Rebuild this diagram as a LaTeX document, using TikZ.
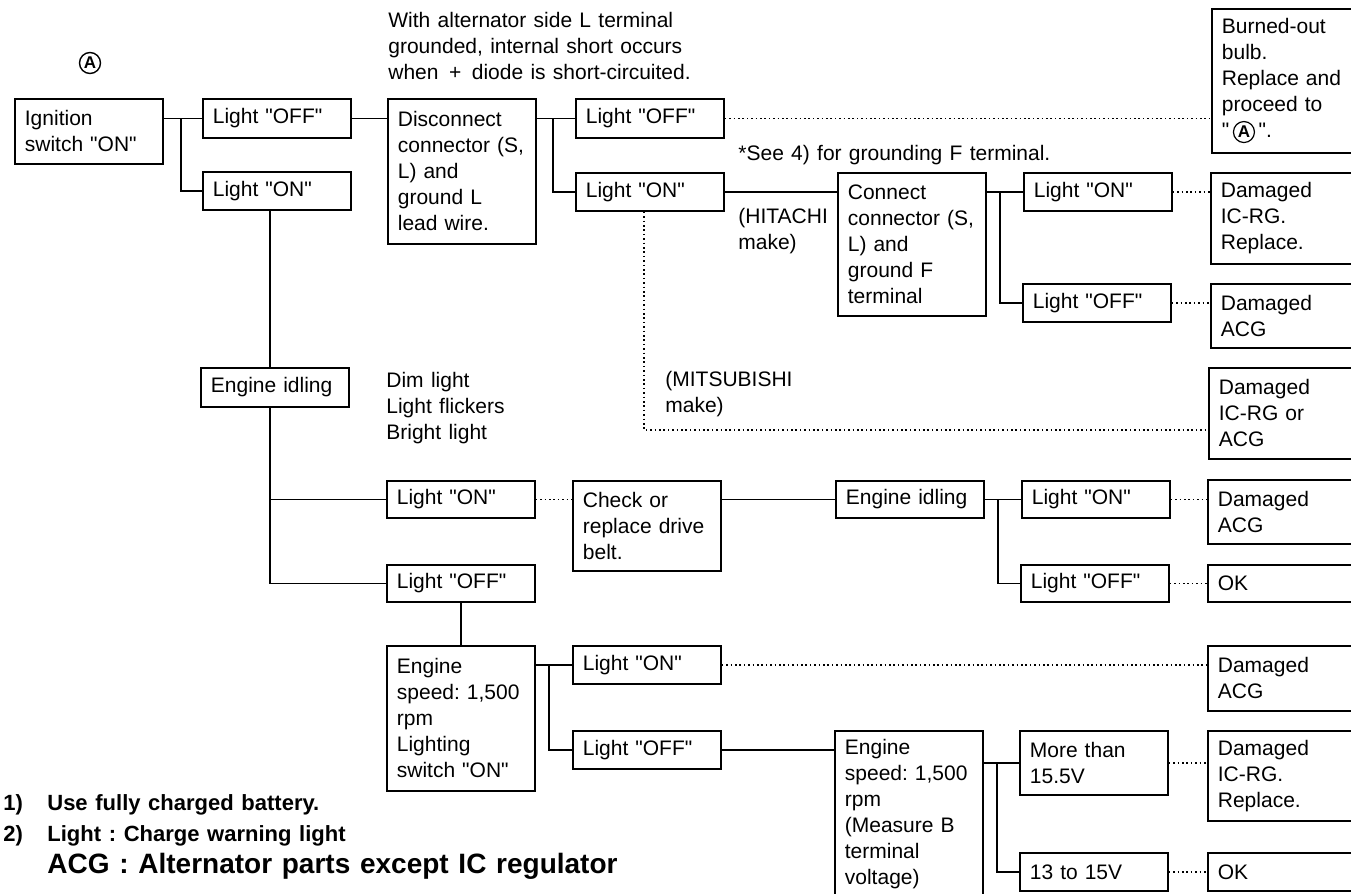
\documentclass[tikz,border=0pt]{standalone}
\usepackage{fontspec}
\setmainfont{Liberation Sans}[Ligatures=TeXOff, WordSpace=1.25]
\usetikzlibrary{positioning, calc}

\newcommand\chartfont{\fontsize{10.5}{13}\selectfont\frenchspacing}
\newcommand\remarkfont{\bfseries\fontsize{11}{15.5}\selectfont\frenchspacing}
% small ringed A, for use inside box texts
\newcommand\ringA{\tikz[baseline=(rk.base)]\node[circle, draw, anchor=base,
  line width=0.6pt, inner sep=0.3pt, minimum size=10.5pt, text width={},
  font=\bfseries\fontsize{8.5}{8.5}\selectfont] (rk) {A};}

\begin{document}
\begin{tikzpicture}[x=0.5pt, y=-0.5pt, font=\chartfont]
  \tikzset{
    box/.style={draw, line width=0.9pt, anchor=north west, align=left,
      text width=64pt, minimum width=74pt, inner xsep=5pt, inner ysep=1pt},
    link/.style={line width=0.7pt},
    lead/.style={line width=0.8pt, dash pattern=on 0.8pt off 1.4pt},
    note/.style={anchor=north west, align=left, inner sep=0pt},
    ringmark/.style={circle, draw, line width=0.7pt, inner sep=0.3pt,
      minimum size=10.5pt, font=\bfseries\fontsize{8.5}{8.5}\selectfont}}
  \useasboundingbox (0,0) rectangle (1351,894);
  \clip (0,0) rectangle (1351,894);

  % --- ignition on, first branch
  \node[ringmark] (markA) at (90,63) {A};
  \node[box, minimum height=32.5pt] (ign) at (14,98) {Ignition\\switch "ON"};
  \node[box, minimum height=19.5pt] (off1) at (202,98) {Light "OFF"};
  \node[box, minimum height=19pt] (on1) at (202,171) {Light "ON"};

  % --- light off: ground the L lead
  \node[note] (cause) at (388,12)
    {With alternator side L terminal\\grounded, internal short occurs\\when\enspace+\enspace diode is short-circuited.};
  \node[box, minimum height=72.5pt] (disc) at (387,98)
    {Disconnect\\connector~(S,\\L) and\\ground L\\lead wire.};
  \node[box, minimum height=19.5pt] (off2) at (575,98) {Light "OFF"};
  \node[box, minimum height=19pt] (on2) at (575,172) {Light "ON"};
  \node[note] (see4) at (738,145) {*See 4) for grounding F terminal.};
  \node[note] (hitachi) at (738,208) {(HITACHI\\make)};
  \node[note] (mitsubishi) at (665,371) {(MITSUBISHI\\make)};
  \node[box, minimum height=71.5pt] (conn) at (837,172)
    {Connect\\connector~(S,\\L) and\\ground F\\terminal};
  \node[box, minimum height=19pt] (on3) at (1023,172) {Light "ON"};
  \node[box, minimum height=19pt] (off3) at (1022,283) {Light "OFF"};

  % --- light on: engine idling
  \node[box, minimum height=19.5pt] (idle) at (200,367) {Engine idling};
  \node[note] (symptom) at (386,372) {Dim light\\Light flickers\\Bright light};
  \node[box, minimum height=18.5pt] (on4) at (386,480) {Light "ON"};
  \node[box, minimum height=18.5pt] (off4) at (386,564) {Light "OFF"};
  \node[box, minimum height=45pt] (check) at (572,480) {Check or\\replace drive\\belt.};
  \node[box, minimum height=18.5pt] (idle2) at (835,480) {Engine idling};
  \node[box, minimum height=18.5pt] (on5) at (1021,480) {Light "ON"};
  \node[box, minimum height=18.5pt] (off5) at (1020,564) {Light "OFF"};

  % --- 1,500 rpm with lighting on
  \node[box, minimum height=72.5pt] (speed) at (386,645)
    {Engine\\speed: 1,500\\rpm\\Lighting\\switch "ON"};
  \node[box, minimum height=19pt] (on6) at (572,645) {Light "ON"};
  \node[box, minimum height=19pt] (off6) at (572,730) {Light "OFF"};
  \node[box, minimum height=83pt] (speed2) at (834,730)
    {Engine\\speed: 1,500\\rpm\\(Measure B\\terminal\\voltage)};
  \node[box, minimum height=32pt] (more) at (1019,730) {More than\\15.5V};
  \node[box, minimum height=19pt] (range) at (1019,852) {13 to 15V};

  % --- verdicts
  \node[box, minimum height=72pt] (burn) at (1211,8)
    {Burned-out\\bulb.\\Replace and\\proceed to\\"\,\ringA\,".};
  \node[box, minimum height=45.5pt] (dmgA) at (1210,172) {Damaged\\IC-RG.\\Replace.};
  \node[box, minimum height=32pt] (dmgB) at (1210,283) {Damaged\\ACG};
  \node[box, minimum height=45.5pt] (dmgC) at (1208,367) {Damaged\\IC-RG or\\ACG};
  \node[box, minimum height=32pt] (dmgD) at (1207,479) {Damaged\\ACG};
  \node[box, minimum height=18.5pt] (okA) at (1207,564) {OK};
  \node[box, minimum height=32.5pt] (dmgE) at (1207,645) {Damaged\\ACG};
  \node[box, minimum height=45pt] (dmgF) at (1207,730) {Damaged\\IC-RG.\\Replace.};
  \node[box, minimum height=19pt] (okB) at (1207,852) {OK};

  % --- remarks under the chart
  \node[note, font=\remarkfont] (remarks) at (3,794)
    {\makebox[22pt][l]{1)}Use fully charged battery.\\
     \makebox[22pt][l]{2)}Light : Charge warning light};
  \node[note, font=\bfseries\fontsize{14}{16}\selectfont\frenchspacing] (acg) at (47,853)
    {ACG : Alternator parts except IC regulator};

  % junction columns
  \coordinate (j1) at (181,0);
  \coordinate (j2) at (553,0);
  \coordinate (j3) at (1000,0);
  \coordinate (j4) at (998,0);
  \coordinate (j5) at (549,0);
  \coordinate (j6) at (997,0);
  \coordinate (trunk) at (270,0);
  \coordinate (mitsu) at (644,430);

  % solid connectors
  \draw[link] (ign.east |- off1.west) -- (off1.west);
  \draw[link] (j1 |- off1.west) |- (on1.west);
  \draw[link] (off1.east) -- (off1.east -| disc.west);
  \draw[link] (disc.east |- off2.west) -- (off2.west);
  \draw[link] (j2 |- off2.west) |- (on2.west);
  \draw[link] (on2.east) -- (on2.east -| conn.west);
  \draw[link] (conn.east |- on3.west) -- (on3.west);
  \draw[link] (j3 |- on3.west) |- (off3.west);
  \draw[link] (on1.south -| trunk) -- (idle.north -| trunk);
  \draw[link] (idle.south -| trunk) |- (on4.west);
  \draw[link] (idle.south -| trunk) |- (off4.west);
  \draw[link] (check.east |- idle2.west) -- (idle2.west);
  \draw[link] (idle2.east) -- (on5.west);
  \draw[link] (j4 |- on5.west) |- (off5.west);
  \draw[link] (off4.south) -- (speed.north);
  \draw[link] (speed.east |- on6.west) -- (on6.west);
  \draw[link] (j5 |- on6.west) |- (off6.west);
  \draw[link] (off6.east) -- (off6.east -| speed2.west);
  \draw[link] (speed2.east |- more.west) -- (more.west);
  \draw[link] (j6 |- more.west) |- (range.west);

  % dotted leads to the verdicts
  \draw[lead] (off2.east) -- (off2.east -| burn.west);
  \draw[lead] (on3.east) -- (on3.east -| dmgA.west);
  \draw[lead] (off3.east) -- (off3.east -| dmgB.west);
  \draw[lead] (on2.south -| mitsu) -- (mitsu) -- (mitsu -| dmgC.west);
  \draw[lead] (on4.east) -- (on4.east -| check.west);
  \draw[lead] (on5.east) -- (on5.east -| dmgD.west);
  \draw[lead] (off5.east) -- (off5.east -| okA.west);
  \draw[lead] (on6.east) -- (on6.east -| dmgE.west);
  \draw[lead] (more.east) -- (more.east -| dmgF.west);
  \draw[lead] (range.east) -- (range.east -| okB.west);
\end{tikzpicture}
\end{document}
